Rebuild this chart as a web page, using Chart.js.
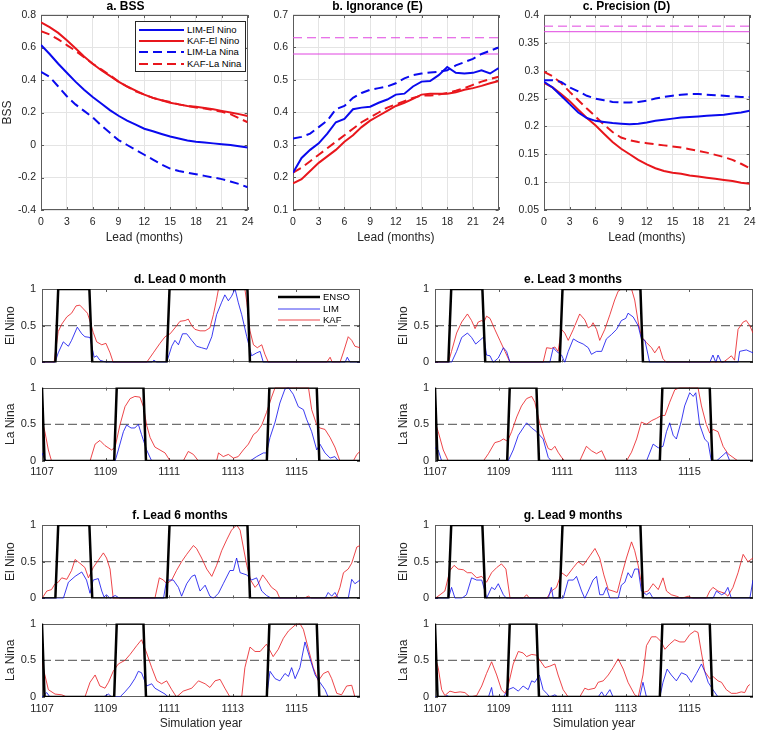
<!DOCTYPE html>
<html>
<head>
<meta charset="utf-8">
<script src="https://cdn.jsdelivr.net/npm/chart.js@4.4.1/dist/chart.umd.min.js"></script>
<style>
  body { margin: 0; width: 758px; height: 731px; position: relative; overflow: hidden; background: #fff;
         font-family: 'Liberation Sans', Arial, sans-serif; }
  canvas { position: absolute; }
  .leg { position: absolute; color: #000; font-size: 9.5px; }
  .leg .row { position: absolute; left: 0; height: 10px; white-space: nowrap; }
  .leg svg { position: absolute; top: 3px; }
  .leg span { position: absolute; top: -1px; line-height: 12px; }
</style>
</head>
<body>
<script>
// ---- top row: skill scores vs lead ----
const leads = [0,1,2,3,4,5,6,7,8,9,10,11,12,13,14,15,16,17,18,19,20,21,22,23,24];
const leadTicks = [0,3,6,9,12,15,18,21,24];
const seriesNames = ['LIM-El Nino', 'KAF-El Nino', 'LIM-La Nina', 'KAF-La Nina'];

const bssLimNino = [0.615,0.56,0.50,0.445,0.39,0.34,0.295,0.255,0.215,0.18,0.15,0.125,0.10,0.085,0.068,0.052,0.04,0.028,0.02,0.015,0.01,0.005,0.0,-0.008,-0.015];
const bssKafNino = [0.755,0.725,0.69,0.645,0.595,0.545,0.50,0.46,0.425,0.39,0.36,0.335,0.31,0.29,0.275,0.26,0.25,0.24,0.235,0.228,0.22,0.21,0.20,0.19,0.178];
const bssLimNina = [0.45,0.42,0.36,0.30,0.25,0.21,0.17,0.12,0.075,0.03,0.0,-0.03,-0.06,-0.09,-0.12,-0.145,-0.16,-0.17,-0.18,-0.19,-0.20,-0.21,-0.225,-0.24,-0.26];
const bssKafNina = [0.70,0.68,0.65,0.615,0.58,0.54,0.50,0.465,0.43,0.39,0.36,0.33,0.31,0.29,0.275,0.265,0.25,0.24,0.23,0.225,0.215,0.205,0.19,0.165,0.14];
const bssTicks = [-0.4,-0.2,0,0.2,0.4,0.6,0.8];

const ignLimNino = [0.215,0.26,0.285,0.305,0.335,0.37,0.38,0.41,0.415,0.418,0.43,0.44,0.455,0.458,0.48,0.495,0.497,0.515,0.54,0.522,0.52,0.522,0.53,0.52,0.537];
const ignKafNino = [0.182,0.195,0.22,0.245,0.265,0.285,0.31,0.33,0.355,0.375,0.39,0.405,0.42,0.43,0.442,0.455,0.458,0.458,0.458,0.462,0.47,0.475,0.482,0.49,0.497];
const ignLimNina = [0.32,0.325,0.335,0.355,0.375,0.41,0.42,0.445,0.46,0.47,0.475,0.48,0.49,0.505,0.515,0.52,0.523,0.525,0.53,0.545,0.555,0.565,0.58,0.59,0.60];
const ignKafNina = [0.215,0.23,0.25,0.27,0.29,0.31,0.33,0.35,0.37,0.385,0.40,0.415,0.425,0.435,0.445,0.452,0.452,0.455,0.46,0.467,0.475,0.485,0.495,0.503,0.51];
const ignRefNino = 0.58, ignRefNina = 0.63;
const ignTicks = [0.1,0.2,0.3,0.4,0.5,0.6,0.7];

const preLimNino = [0.28,0.27,0.255,0.24,0.225,0.215,0.21,0.208,0.206,0.205,0.204,0.205,0.207,0.21,0.212,0.214,0.216,0.217,0.218,0.219,0.22,0.221,0.223,0.225,0.228];
const preKafNino = [0.278,0.27,0.258,0.245,0.23,0.215,0.202,0.187,0.172,0.16,0.15,0.14,0.132,0.125,0.12,0.117,0.115,0.112,0.11,0.108,0.106,0.104,0.102,0.099,0.097];
const preLimNina = [0.283,0.283,0.28,0.27,0.263,0.255,0.25,0.247,0.244,0.243,0.243,0.244,0.246,0.25,0.253,0.255,0.257,0.258,0.258,0.257,0.256,0.255,0.254,0.253,0.253];
const preKafNina = [0.298,0.29,0.278,0.262,0.247,0.232,0.218,0.203,0.19,0.18,0.175,0.172,0.17,0.168,0.166,0.164,0.162,0.159,0.156,0.153,0.149,0.145,0.14,0.133,0.125];
const preRefNino = 0.37, preRefNina = 0.38;
const preTicks = [0.05,0.1,0.15,0.2,0.25,0.3,0.35,0.4];

// ---- bottom panels: probabilities vs simulation year ([year, value]) ----
const yearTicks = [1107,1109,1111,1113,1115];
const probTicks = [0,0.5,1];
const threshold = 0.5;
const ensoNino = [[1107.00,0],[1107.42,0],[1107.51,1],[1108.49,1],[1108.58,0],[1110.92,0],[1111.01,1],[1113.46,1],[1113.54,0],[1117.00,0]];
const ensoNina = [[1107.00,1],[1107.08,0],[1109.27,0],[1109.35,1],[1110.19,1],[1110.27,0],[1114.07,0],[1114.15,1],[1115.64,1],[1115.72,0],[1117.00,0]];

const kafNino0 = [[1107.00,0],[1107.38,0],[1107.51,0.42],[1107.62,0.52],[1107.78,0.62],[1107.93,0.67],[1108.07,0.77],[1108.19,0.78],[1108.30,0.73],[1108.43,0.67],[1108.51,0.56],[1108.61,0.41],[1108.72,0.28],[1108.88,0.24],[1109.01,0.26],[1109.14,0.13],[1109.24,0],[1110.29,0],[1110.50,0.13],[1110.71,0.26],[1110.87,0.35],[1111.03,0.39],[1111.18,0.47],[1111.34,0.56],[1111.50,0.57],[1111.60,0.59],[1111.71,0.50],[1111.81,0.45],[1111.97,0.43],[1112.13,0.43],[1112.28,0.47],[1112.39,0.65],[1112.49,0.86],[1112.55,1],[1113.38,1],[1113.44,0.82],[1113.54,0.43],[1113.65,0.24],[1113.77,0.20],[1113.91,0.24],[1114.01,0.11],[1114.12,0],[1115.95,0],[1116.06,0.07],[1116.13,0],[1116.37,0],[1116.48,0.14],[1116.63,0.35],[1116.74,0.30],[1116.84,0.22],[1117.00,0.20]];
const limNino0 = [[1107.00,0],[1107.41,0],[1107.51,0.13],[1107.67,0.28],[1107.83,0.22],[1107.93,0.30],[1108.11,0.48],[1108.25,0.39],[1108.35,0.35],[1108.51,0.34],[1108.64,0.07],[1108.72,0.09],[1108.82,0.03],[1109.03,0],[1110.45,0],[1110.52,0.03],[1110.61,0],[1110.92,0],[1111.08,0.22],[1111.18,0.30],[1111.29,0.24],[1111.42,0.39],[1111.55,0.39],[1111.71,0.30],[1111.86,0.22],[1112.02,0.20],[1112.18,0.18],[1112.34,0.35],[1112.49,0.65],[1112.65,0.82],[1112.75,0.92],[1112.86,0.84],[1112.96,0.90],[1113.07,1],[1113.17,0.82],[1113.28,0.65],[1113.44,0.35],[1113.59,0.09],[1113.75,0.13],[1113.86,0.15],[1113.96,0],[1116.53,0],[1116.60,0.07],[1116.69,0],[1117.00,0]];
const kafNina0 = [[1107.00,0.55],[1107.09,0.40],[1107.20,0.15],[1107.30,0],[1108.51,0],[1108.67,0.23],[1108.82,0.28],[1108.98,0.21],[1109.19,0.15],[1109.30,0.19],[1109.45,0.49],[1109.61,0.74],[1109.77,0.85],[1109.92,0.88],[1110.08,0.87],[1110.19,0.74],[1110.29,0.49],[1110.40,0.32],[1110.55,0.19],[1110.71,0.15],[1110.87,0.11],[1111.03,0],[1111.44,0],[1111.60,0.13],[1111.76,0.09],[1111.92,0],[1112.49,0],[1112.55,0.11],[1112.70,0.06],[1112.86,0.09],[1113.02,0.04],[1113.17,0.06],[1113.33,0.15],[1113.49,0.23],[1113.65,0.36],[1113.77,0.40],[1113.91,0.49],[1114.06,0.66],[1114.22,0.87],[1114.33,1],[1115.38,1],[1115.48,0.70],[1115.64,0.49],[1115.74,0.45],[1115.90,0.43],[1116.06,0.32],[1116.21,0.19],[1116.37,0],[1116.79,0],[1116.90,0.09],[1117.00,0.13]];
const limNina0 = [[1107.00,0.11],[1107.07,0.04],[1107.15,0],[1109.30,0],[1109.40,0.15],[1109.56,0.40],[1109.66,0.49],[1109.80,0.45],[1109.92,0.45],[1110.03,0.50],[1110.13,0.36],[1110.29,0.15],[1110.45,0],[1113.54,0],[1113.75,0.06],[1113.96,0.11],[1114.06,0.11],[1114.17,0.32],[1114.33,0.53],[1114.48,0.79],[1114.64,0.98],[1114.75,1],[1114.90,0.91],[1115.06,0.74],[1115.22,0.70],[1115.32,0.57],[1115.48,0.40],[1115.64,0.15],[1115.74,0.23],[1115.90,0.11],[1116.06,0.04],[1116.21,0.06],[1116.32,0],[1117.00,0]];

const kafNino3 = [[1107.00,0],[1107.42,0],[1107.52,0.15],[1107.68,0.40],[1107.84,0.55],[1108.02,0.66],[1108.15,0.57],[1108.26,0.46],[1108.36,0.55],[1108.47,0.57],[1108.54,0.55],[1108.62,0.63],[1108.73,0.60],[1108.88,0.45],[1109.04,0.30],[1109.20,0.15],[1109.36,0],[1110.40,0],[1110.51,0.20],[1110.66,0.19],[1110.77,0.21],[1110.87,0.15],[1110.98,0.45],[1111.08,0.40],[1111.19,0.30],[1111.35,0.45],[1111.55,0.66],[1111.71,0.58],[1111.82,0.47],[1111.92,0.50],[1111.97,0.54],[1112.08,0.45],[1112.18,0.30],[1112.34,0.45],[1112.50,0.65],[1112.65,0.85],[1112.76,0.97],[1112.86,1],[1113.18,1],[1113.28,0.85],[1113.39,0.55],[1113.49,0.35],[1113.65,0.27],[1113.81,0.20],[1113.91,0.13],[1114.05,0.22],[1114.17,0.05],[1114.28,0],[1116.06,0],[1116.21,0.05],[1116.32,0.09],[1116.42,0.03],[1116.53,0.45],[1116.69,0.55],[1116.79,0.57],[1116.90,0.50],[1117.00,0.40]];
const limNino3 = [[1107.00,0],[1107.52,0],[1107.68,0.15],[1107.84,0.34],[1108.02,0.40],[1108.15,0.34],[1108.28,0.25],[1108.41,0.30],[1108.54,0.35],[1108.62,0.10],[1108.73,0.09],[1108.83,0],[1108.99,0.06],[1109.15,0.20],[1109.25,0.15],[1109.36,0],[1110.61,0],[1110.72,0.20],[1110.82,0.15],[1110.98,0.10],[1111.08,0],[1111.19,0.15],[1111.35,0.32],[1111.50,0.28],[1111.66,0.25],[1111.82,0.20],[1111.92,0.11],[1112.08,0.15],[1112.24,0.15],[1112.39,0.32],[1112.55,0.38],[1112.71,0.45],[1112.86,0.57],[1113.00,0.60],[1113.07,0.67],[1113.23,0.62],[1113.39,0.50],[1113.49,0.32],[1113.60,0.30],[1113.75,0],[1115.64,0],[1115.74,0.10],[1115.83,0],[1115.90,0.10],[1116.01,0],[1116.53,0],[1116.58,0.15],[1116.79,0.17],[1117.00,0.13]];
const kafNina3 = [[1107.00,0.53],[1107.10,0.40],[1107.26,0.15],[1107.42,0],[1108.52,0],[1108.68,0.10],[1108.88,0.25],[1109.04,0.27],[1109.15,0.30],[1109.28,0.27],[1109.41,0.40],[1109.57,0.60],[1109.72,0.75],[1109.88,0.85],[1110.04,0.88],[1110.14,0.80],[1110.30,0.50],[1110.46,0.28],[1110.56,0.17],[1110.66,0.15],[1110.77,0.20],[1110.87,0.12],[1110.98,0.05],[1111.08,0],[1111.55,0],[1111.76,0.20],[1111.92,0.14],[1112.08,0.10],[1112.24,0.14],[1112.39,0],[1113.02,0],[1113.18,0.12],[1113.34,0.30],[1113.49,0.53],[1113.65,0.50],[1113.81,0.55],[1113.96,0.58],[1114.12,0.62],[1114.23,0.62],[1114.38,0.80],[1114.54,0.97],[1114.70,1],[1115.27,1],[1115.38,0.75],[1115.53,0.50],[1115.64,0.38],[1115.74,0.43],[1115.90,0.40],[1116.06,0.20],[1116.21,0.10],[1116.37,0.05],[1116.53,0],[1117.00,0]];
const limNina3 = [[1107.00,0.18],[1107.10,0.15],[1107.21,0],[1109.30,0],[1109.46,0.15],[1109.62,0.35],[1109.88,0.52],[1110.04,0.45],[1110.19,0.40],[1110.40,0.30],[1110.56,0.05],[1110.66,0],[1113.65,0],[1113.86,0.23],[1114.02,0.18],[1114.17,0.20],[1114.28,0.40],[1114.38,0.52],[1114.49,0.35],[1114.59,0.30],[1114.75,0.55],[1114.85,0.75],[1115.01,0.93],[1115.12,0.88],[1115.20,0.93],[1115.32,0.50],[1115.48,0.30],[1115.59,0.25],[1115.69,0],[1115.85,0],[1116.06,0.08],[1116.16,0.12],[1116.27,0],[1117.00,0]];

const kafNino6 = [[1107.00,0],[1107.15,0.10],[1107.30,0.12],[1107.41,0.20],[1107.51,0.22],[1107.62,0.28],[1107.78,0.26],[1107.93,0.38],[1108.04,0.53],[1108.19,0.48],[1108.35,0.42],[1108.46,0.28],[1108.61,0.42],[1108.77,0.52],[1108.93,0.62],[1109.03,0.55],[1109.14,0.40],[1109.24,0],[1110.55,0],[1110.69,0.28],[1110.82,0.25],[1110.92,0.20],[1111.08,0.25],[1111.23,0.38],[1111.39,0.50],[1111.55,0.60],[1111.76,0.72],[1111.86,0.68],[1112.02,0.55],[1112.18,0.40],[1112.34,0.30],[1112.49,0.45],[1112.65,0.65],[1112.81,0.80],[1112.96,0.93],[1113.12,1],[1113.23,0.93],[1113.33,0.70],[1113.44,0.45],[1113.56,0.25],[1113.70,0.15],[1113.80,0.20],[1113.94,0.32],[1114.06,0.25],[1114.22,0.15],[1114.38,0.10],[1114.48,0],[1115.22,0],[1115.38,0.03],[1115.48,0],[1116.06,0],[1116.27,0.03],[1116.37,0.15],[1116.48,0.35],[1116.63,0.40],[1116.74,0.48],[1116.90,0.70],[1117.00,0.72]];
const limNino6 = [[1107.00,0],[1107.67,0],[1107.83,0.22],[1108.04,0.30],[1108.25,0.36],[1108.40,0.25],[1108.51,0.07],[1108.61,0.25],[1108.77,0.27],[1108.88,0.10],[1108.95,0.02],[1109.03,0.05],[1109.14,0],[1109.30,0.04],[1109.45,0],[1110.82,0],[1110.92,0.25],[1111.13,0.25],[1111.29,0.15],[1111.39,0.03],[1111.55,0.20],[1111.71,0.30],[1111.81,0.32],[1111.97,0.10],[1112.13,0.18],[1112.28,0.03],[1112.39,0],[1112.55,0.07],[1112.70,0.20],[1112.91,0.38],[1113.02,0.38],[1113.12,0.55],[1113.23,0.35],[1113.44,0.32],[1113.59,0.25],[1113.75,0.28],[1113.91,0.10],[1114.06,0.04],[1114.22,0],[1115.90,0],[1116.00,0.08],[1116.11,0.03],[1116.21,0.08],[1116.32,0],[1116.63,0],[1116.74,0.26],[1116.84,0.20],[1117.00,0.25]];
const kafNina6 = [[1107.00,0.48],[1107.09,0.30],[1107.20,0.10],[1107.41,0.04],[1107.62,0.03],[1107.78,0],[1108.35,0],[1108.51,0.20],[1108.67,0.30],[1108.82,0.15],[1108.98,0.12],[1109.09,0.20],[1109.24,0.35],[1109.40,0.45],[1109.61,0.50],[1109.77,0.58],[1109.98,0.70],[1110.13,0.78],[1110.29,0.60],[1110.45,0.40],[1110.61,0.22],[1110.76,0.18],[1110.92,0.22],[1111.08,0.10],[1111.23,0],[1111.44,0.08],[1111.71,0.12],[1111.92,0.22],[1112.13,0.18],[1112.28,0.13],[1112.44,0.22],[1112.60,0.24],[1112.75,0.12],[1112.91,0],[1113.28,0],[1113.38,0.40],[1113.54,0.68],[1113.70,0.62],[1113.86,0.62],[1114.06,0.72],[1114.27,0.55],[1114.43,0.65],[1114.59,0.80],[1114.75,0.90],[1114.96,0.98],[1115.11,1],[1115.22,0.92],[1115.38,0.65],[1115.53,0.40],[1115.69,0.22],[1115.85,0.32],[1116.00,0.35],[1116.11,0.25],[1116.27,0.05],[1116.42,0.03],[1116.58,0.15],[1116.74,0.16],[1116.84,0],[1117.00,0]];
const limNina6 = [[1107.00,0],[1107.15,0.06],[1107.25,0],[1108.93,0],[1109.09,0.04],[1109.19,0],[1109.45,0],[1109.61,0.07],[1109.77,0.15],[1109.92,0.25],[1110.03,0.35],[1110.13,0.33],[1110.29,0.15],[1110.45,0.18],[1110.55,0.12],[1110.71,0.08],[1110.87,0.04],[1110.97,0],[1114.06,0],[1114.17,0.35],[1114.33,0.25],[1114.48,0.22],[1114.64,0.32],[1114.75,0.28],[1114.85,0.40],[1114.96,0.25],[1115.11,0.40],[1115.27,0.75],[1115.43,0.52],[1115.59,0.30],[1115.74,0.20],[1115.90,0.10],[1116.00,0],[1117.00,0]];

const kafNino9 = [[1107.00,0],[1107.16,0.05],[1107.31,0.10],[1107.47,0.38],[1107.60,0.45],[1107.73,0.40],[1107.89,0.39],[1108.02,0.35],[1108.15,0.35],[1108.31,0.28],[1108.47,0.30],[1108.62,0.22],[1108.78,0.35],[1108.94,0.42],[1109.09,0.47],[1109.23,0.40],[1109.36,0],[1109.77,0],[1109.88,0.05],[1109.98,0],[1110.51,0],[1110.66,0.10],[1110.82,0.15],[1110.98,0.35],[1111.14,0.30],[1111.35,0.42],[1111.50,0.50],[1111.66,0.45],[1111.87,0.58],[1112.03,0.68],[1112.18,0.55],[1112.31,0.32],[1112.45,0.12],[1112.60,0.10],[1112.73,0.08],[1112.86,0.30],[1113.02,0.55],[1113.18,0.77],[1113.28,0.65],[1113.39,0.45],[1113.54,0.08],[1113.70,0.10],[1113.86,0.20],[1114.02,0.12],[1114.17,0.28],[1114.28,0.10],[1114.43,0.05],[1114.59,0.03],[1114.75,0],[1114.96,0.03],[1115.12,0],[1115.53,0],[1115.64,0.10],[1115.74,0.15],[1115.90,0.10],[1116.11,0.07],[1116.21,0.03],[1116.37,0.15],[1116.53,0.35],[1116.69,0.60],[1116.84,0.50],[1117.00,0.55]];
const limNino9 = [[1107.00,0],[1107.42,0],[1107.52,0.15],[1107.63,0],[1107.84,0],[1107.99,0.05],[1108.15,0.28],[1108.31,0.25],[1108.47,0.25],[1108.57,0.10],[1108.62,0],[1108.78,0.15],[1108.88,0.12],[1108.99,0.20],[1109.15,0.05],[1109.25,0],[1110.56,0],[1110.66,0.15],[1110.72,0],[1111.03,0],[1111.19,0.25],[1111.35,0.25],[1111.45,0.30],[1111.61,0.10],[1111.71,0],[1111.82,0.10],[1111.97,0.25],[1112.08,0.30],[1112.18,0.05],[1112.29,0.05],[1112.39,0.15],[1112.50,0],[1112.76,0],[1112.86,0.18],[1112.97,0.22],[1113.07,0.35],[1113.18,0.28],[1113.28,0.40],[1113.39,0.40],[1113.49,0.10],[1113.65,0.05],[1113.75,0.08],[1113.86,0],[1115.74,0],[1115.85,0.10],[1116.01,0.05],[1116.11,0.07],[1116.21,0.15],[1116.32,0],[1116.90,0],[1117.00,0.25]];
const kafNina9 = [[1107.00,0.55],[1107.10,0.40],[1107.21,0.10],[1107.31,0.02],[1107.47,0.08],[1107.63,0.06],[1107.79,0.07],[1107.94,0.06],[1108.10,0],[1108.31,0.02],[1108.47,0.15],[1108.62,0.32],[1108.78,0.48],[1108.94,0.30],[1109.09,0.10],[1109.20,0.05],[1109.30,0.15],[1109.46,0.45],[1109.62,0.62],[1109.77,0.60],[1109.88,0.55],[1110.04,0.58],[1110.19,0.57],[1110.30,0.50],[1110.46,0.40],[1110.61,0.42],[1110.77,0.45],[1110.87,0.30],[1111.03,0.10],[1111.19,0],[1111.55,0],[1111.71,0.12],[1111.82,0.10],[1112.03,0.12],[1112.13,0.20],[1112.29,0.22],[1112.45,0.30],[1112.60,0.40],[1112.76,0.52],[1112.92,0.38],[1113.07,0.20],[1113.28,0.03],[1113.39,0],[1113.54,0.30],[1113.65,0.70],[1113.81,0.82],[1113.96,0.82],[1114.12,0.75],[1114.23,0.65],[1114.38,0.72],[1114.54,0.78],[1114.70,0.75],[1114.85,0.75],[1115.01,0.85],[1115.17,0.90],[1115.27,0.88],[1115.38,0.60],[1115.48,0.35],[1115.64,0.25],[1115.74,0.28],[1115.90,0.22],[1116.01,0.20],[1116.16,0.10],[1116.32,0.05],[1116.48,0.05],[1116.63,0.07],[1116.74,0.06],[1116.84,0.15],[1116.90,0.17]];
const limNina9 = [[1107.00,0],[1107.31,0],[1107.37,0.02],[1107.47,0],[1108.68,0],[1108.78,0.13],[1108.83,0],[1109.15,0],[1109.30,0.10],[1109.46,0.13],[1109.62,0.08],[1109.77,0.15],[1109.93,0.10],[1110.04,0.22],[1110.14,0.20],[1110.28,0.30],[1110.40,0.10],[1110.51,0.05],[1110.61,0],[1110.77,0.03],[1110.87,0],[1112.13,0],[1112.24,0.07],[1112.34,0],[1112.50,0.10],[1112.60,0],[1113.44,0],[1113.54,0.20],[1113.65,0],[1114.07,0],[1114.17,0.20],[1114.30,0.38],[1114.43,0.30],[1114.59,0.22],[1114.75,0.33],[1114.91,0.30],[1115.06,0.20],[1115.22,0.32],[1115.38,0.45],[1115.48,0.35],[1115.59,0.20],[1115.74,0.10],[1115.90,0],[1116.90,0]];

// ---- styling ----
const FONT = "'Liberation Sans', Arial, sans-serif";
Chart.defaults.font.family = FONT;
Chart.defaults.color = '#262626';
const BLUE = '#0a0aee', RED = '#e8161c', MAG = '#e044e0', GRID = '#e4e4e4';
const DASH = [9, 5];

const num = v => String(Math.round(v * 100) / 100);

// axes box and inward tick marks, drawn like matlab
const framePlugin = {
  id: 'frame',
  beforeDatasetsDraw(chart) {
    const {ctx, chartArea: a} = chart;
    const sx = chart.scales.x, sy = chart.scales.y;
    ctx.save();
    ctx.strokeStyle = '#5c5c5c';
    ctx.lineWidth = 1;
    ctx.beginPath();
    sx.ticks.forEach(t => {
      const p = Math.round(sx.getPixelForValue(t.value)) + 0.5;
      ctx.moveTo(p, a.bottom); ctx.lineTo(p, a.bottom - 3);
      ctx.moveTo(p, a.top); ctx.lineTo(p, a.top + 3);
    });
    sy.ticks.forEach(t => {
      const p = Math.round(sy.getPixelForValue(t.value)) + 0.5;
      ctx.moveTo(a.left, p); ctx.lineTo(a.left + 3, p);
      ctx.moveTo(a.right, p); ctx.lineTo(a.right - 3, p);
    });
    ctx.stroke();
    ctx.strokeRect(Math.round(a.left) + 0.5, Math.round(a.top) + 0.5,
                   Math.round(a.width) - 1, Math.round(a.height) - 1);
    ctx.restore();
  }
};

function line(points, color, width, dash) {
  return { data: points, borderColor: color, borderWidth: width, borderDash: dash || [],
           pointRadius: 0, fill: false, tension: 0 };
}
const byLead = arr => leads.map((l, i) => ({x: l, y: arr[i]}));
const pairs = arr => arr.map(([x, y]) => ({x, y}));
const hline = (v, x0, x1) => [{x: x0, y: v}, {x: x1, y: v}];

function makeChart(box, o) {
  const c = document.createElement('canvas');
  c.width = box.r - box.l + o.yW + o.padR;
  c.height = box.b - box.t + o.padT + o.xH;
  c.style.left = (box.l - o.yW) + 'px';
  c.style.top = (box.t - o.padT) + 'px';
  document.body.appendChild(c);
  const titleH = o.title ? 14.4 + o.titlePad : 0;
  return new Chart(c, {
    type: 'line',
    data: { datasets: o.datasets },
    options: {
      responsive: false, animation: false, events: [],
      layout: { padding: { left: 0, right: o.padR, top: o.padT - titleH, bottom: 0 } },
      plugins: {
        legend: { display: false }, tooltip: { enabled: false },
        title: { display: !!o.title, text: o.title, color: '#000',
                 font: { size: 12, weight: 'bold' }, padding: { top: 0, bottom: o.titlePad || 0 } }
      },
      scales: {
        x: {
          type: 'linear', min: o.xMin, max: o.xMax,
          afterBuildTicks: s => { s.ticks = o.xTicks.map(v => ({value: v})); },
          afterFit: s => { s.height = o.xH; },
          grid: { display: o.grid, color: GRID, drawTicks: false },
          border: { display: false },
          ticks: { display: o.xLabels, padding: o.xPad, font: { size: o.fs }, maxRotation: 0, autoSkip: false, callback: num },
          title: { display: !!o.xTitle, text: o.xTitle, color: '#262626', font: { size: 12 }, padding: { top: 0, bottom: 0 } }
        },
        y: {
          min: o.yMin, max: o.yMax,
          afterBuildTicks: s => { s.ticks = o.yTicks.map(v => ({value: v})); },
          afterFit: s => { s.width = o.yW; },
          grid: { display: o.grid, color: GRID, drawTicks: false },
          border: { display: false },
          ticks: { padding: o.yPad, font: { size: o.fs }, autoSkip: false, callback: num },
          title: { display: !!o.yTitle, text: o.yTitle, color: '#262626', font: { size: 12 }, padding: { top: o.yTitlePad || 0, bottom: 0 } }
        }
      }
    },
    plugins: [framePlugin]
  });
}

// ---- top row ----
const topBase = { xMin: 0, xMax: 24, xTicks: leadTicks, grid: true, xLabels: true, xPad: 5.5, fs: 10.5,
                  padT: 16, titlePad: 1.3, xH: 35, padR: 8, yPad: 5, xTitle: 'Lead (months)' };
const lastLead = leads[leads.length - 1];

makeChart({l: 41, t: 15, r: 251, b: 210}, Object.assign({}, topBase, {
  title: 'a. BSS', yTitle: 'BSS', yW: 41, yMin: -0.4, yMax: 0.8, yTicks: bssTicks,
  datasets: [line(byLead(bssLimNino), BLUE, 2), line(byLead(bssKafNino), RED, 2),
             line(byLead(bssLimNina), BLUE, 2, DASH), line(byLead(bssKafNina), RED, 2, DASH)]
}));
makeChart({l: 293, t: 15, r: 502, b: 210}, Object.assign({}, topBase, {
  title: 'b. Ignorance (E)', yW: 40, yMin: 0.1, yMax: 0.7, yTicks: ignTicks,
  datasets: [line(byLead(ignLimNino), BLUE, 2), line(byLead(ignKafNino), RED, 2),
             line(byLead(ignLimNina), BLUE, 2, DASH), line(byLead(ignKafNina), RED, 2, DASH),
             line(hline(ignRefNino, leads[0], lastLead), MAG, 1), line(hline(ignRefNina, leads[0], lastLead), MAG, 1, DASH)]
}));
makeChart({l: 544, t: 15, r: 753, b: 210}, Object.assign({}, topBase, {
  title: 'c. Precision (D)', yW: 44, yMin: 0.05, yMax: 0.4, yTicks: preTicks,
  datasets: [line(byLead(preLimNino), BLUE, 2), line(byLead(preKafNino), RED, 2),
             line(byLead(preLimNina), BLUE, 2, DASH), line(byLead(preKafNina), RED, 2, DASH),
             line(hline(preRefNino, leads[0], lastLead), MAG, 1), line(hline(preRefNina, leads[0], lastLead), MAG, 1, DASH)]
}));

// ---- bottom panels ----
const yr0 = 1107, yr1 = 1117;
const botBase = { xMin: yr0, xMax: yr1, xTicks: yearTicks, yMin: 0, yMax: 1, yTicks: probTicks, grid: false,
                  fs: 11, yW: 42, padR: 8, yPad: 6, yTitlePad: 3 };

function probSet(enso, lim, kaf) {
  return [line(pairs(enso), '#000', 2.5), line(pairs(lim), BLUE, 0.8), line(pairs(kaf), RED, 0.8),
          line(hline(threshold, yr0, yr1), '#1e1e1e', 0.8, [9, 4])];
}

function panelPair(l, r, topEl, title, lim1, kaf1, lim2, kaf2, last) {
  makeChart({l, t: topEl, r, b: topEl + 78}, Object.assign({}, botBase, {
    title, titlePad: 1.8, padT: 17, xH: 8, xLabels: false, yTitle: 'El Nino',
    datasets: probSet(ensoNino, lim1, kaf1)
  }));
  makeChart({l, t: topEl + 94, r, b: topEl + 172}, Object.assign({}, botBase, {
    padT: 8, xH: last ? 34 : 22, xLabels: true, xPad: last ? 5 : 4.5, yTitle: 'La Nina',
    xTitle: last ? 'Simulation year' : '',
    datasets: probSet(ensoNina, lim2, kaf2)
  }));
}

panelPair(42, 360, 289, 'd. Lead 0 month', limNino0, kafNino0, limNina0, kafNina0, false);
panelPair(435, 753, 289, 'e. Lead 3 months', limNino3, kafNino3, limNina3, kafNina3, false);
panelPair(42, 360, 525, 'f. Lead 6 months', limNino6, kafNino6, limNina6, kafNina6, true);
panelPair(435, 753, 525, 'g. Lead 9 months', limNino9, kafNino9, limNina9, kafNina9, true);

// ---- legends ----
function legend(x, y, w, h, rows, opt) {
  const d = document.createElement('div');
  d.className = 'leg';
  d.style.cssText = `left:${x}px;top:${y}px;width:${w}px;height:${h}px;` + (opt.box ? 'border:1px solid #262626;background:#fff;' : '');
  rows.forEach((r, i) => {
    const row = document.createElement('div');
    row.className = 'row';
    row.style.top = (opt.y0 + i * opt.dy - 5) + 'px';
    row.innerHTML = `<svg width="${opt.len}" height="4" style="left:${opt.x0}px"><line x1="0" y1="2" x2="${opt.len}" y2="2" stroke="${r.color}" stroke-width="${r.width}" ${r.dash ? 'stroke-dasharray="' + r.dash.join(',') + '"' : ''}/></svg><span style="left:${opt.x0 + opt.len + 3}px">${r.label}</span>`;
    d.appendChild(row);
  });
  document.body.appendChild(d);
}
legend(135, 21, 109, 49, [
  {label: seriesNames[0], color: BLUE, width: 2},
  {label: seriesNames[1], color: RED, width: 2},
  {label: seriesNames[2], color: BLUE, width: 2, dash: DASH},
  {label: seriesNames[3], color: RED, width: 2, dash: DASH}
], {box: true, x0: 3, len: 45, y0: 8, dy: 11.2});
legend(275, 289, 70, 38, [
  {label: 'ENSO', color: '#000', width: 2.5},
  {label: 'LIM', color: BLUE, width: 0.8},
  {label: 'KAF', color: RED, width: 0.8}
], {box: false, x0: 3, len: 42, y0: 8, dy: 11.7});
</script>
</body>
</html>
